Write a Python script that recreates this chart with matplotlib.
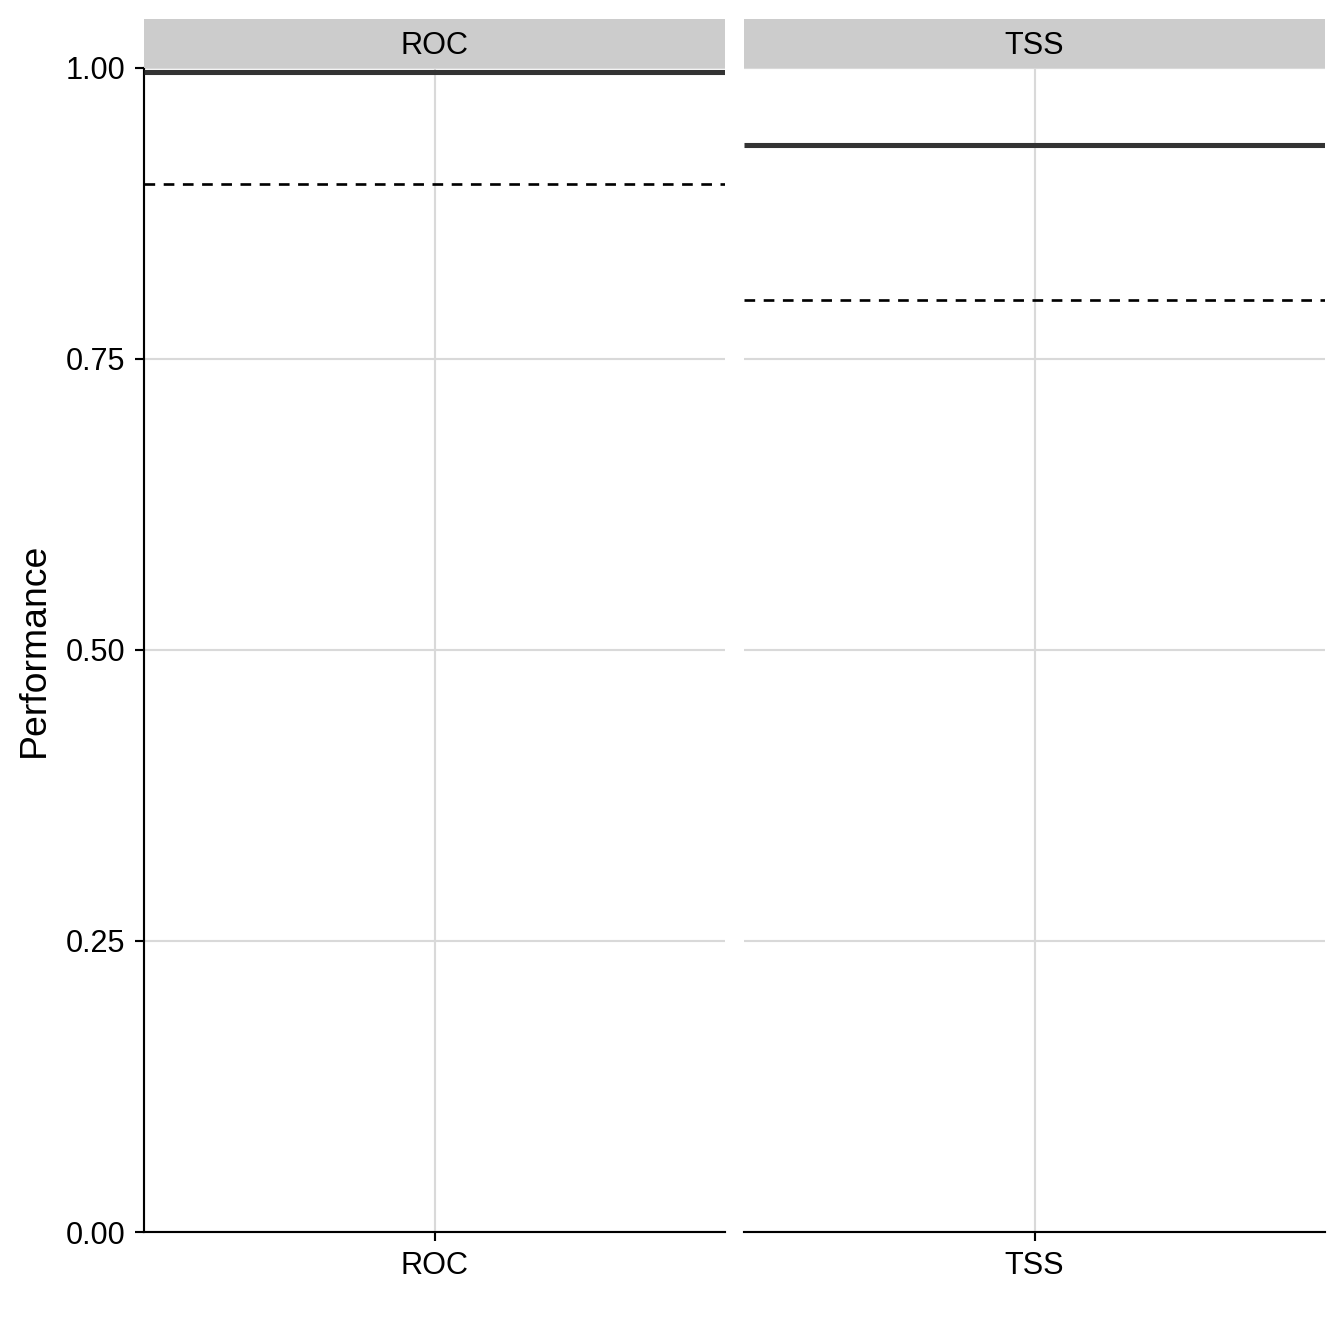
import matplotlib
matplotlib.use("Agg")
import matplotlib.pyplot as plt

plt.rcParams["font.family"] = ["Liberation Sans", "DejaVu Sans"]

# facet values
metrics = ["ROC", "TSS"]
performance = [0.9965, 0.9335]
cutoffs = [0.90, 0.80]
y_ticks = [0.00, 0.25, 0.50, 0.75, 1.00]
y_labels = ["0.00", "0.25", "0.50", "0.75", "1.00"]

W = 1344
fig = plt.figure(figsize=(7, 7), dpi=192)

panel_lefts = [144, 744]
panel_w = 581
bottom_px, top_px = 1232, 67.5
strip_top = 19

for i, name in enumerate(metrics):
    x0 = panel_lefts[i] / W
    ax = fig.add_axes([x0, 1 - bottom_px / W, panel_w / W, (bottom_px - top_px) / W])
    ax.set_xlim(0.4, 1.6)
    ax.set_ylim(0, 1)
    ax.set_xticks([1])
    ax.set_xticklabels([name])
    ax.set_yticks(y_ticks)
    ax.grid(True, color="#d9d9d9", linewidth=0.8)
    ax.set_axisbelow(True)
    for s in ["top", "right"]:
        ax.spines[s].set_visible(False)
    ax.spines["bottom"].set_linewidth(0.8)
    ax.spines["left"].set_linewidth(0.8)
    ax.tick_params(axis="both", length=3.5, width=0.8, labelsize=11.5, colors="black", pad=3.5)

    if i == 0:
        ax.set_yticklabels(y_labels)
        ax.set_ylabel("Performance", fontsize=14, labelpad=5)
    else:
        ax.spines["left"].set_visible(False)
        ax.tick_params(axis="y", left=False, labelleft=False)

    ax.axhline(performance[i], color="#333333", linewidth=1.9, solid_capstyle="butt", zorder=3)
    ax.axhline(cutoffs[i], color="black", linewidth=1.0, dashes=(4, 3.2), zorder=3)

    # facet strip
    sax = fig.add_axes([x0, 1 - top_px / W, panel_w / W, (top_px - strip_top) / W])
    sax.set_facecolor("#cccccc")
    sax.set_xticks([])
    sax.set_yticks([])
    for s in sax.spines.values():
        s.set_visible(False)
    sax.text(0.5, 0.45, name, ha="center", va="center", fontsize=11.5, transform=sax.transAxes)

fig.savefig("out.png", dpi=192, facecolor="white")
